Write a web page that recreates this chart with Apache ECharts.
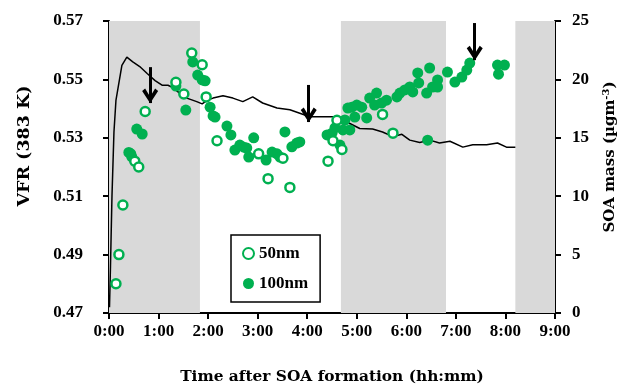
<!DOCTYPE html>
<html>
<head>
<meta charset="utf-8">
<script src="https://cdn.jsdelivr.net/npm/echarts@6/dist/echarts.min.js"></script>
<style>html,body{margin:0;padding:0;background:#fff}#c{width:619px;height:387px}</style>
</head>
<body>
<div id="c"></div>
<script>
// ---- data (time in hours after SOA formation) ----
const timeTickLabels = ['0:00','1:00','2:00','3:00','4:00','5:00','6:00','7:00','8:00','9:00'];
const vfrTickLabels = ['0.47','0.49','0.51','0.53','0.55','0.57'];
const soaTickLabels = ['0','5','10','15','20','25'];

const nm50Time = [0.14,0.20,0.28,0.52,0.60,0.73,1.35,1.51,1.67,1.88,1.96,2.18,3.02,3.21,3.51,3.65,4.42,4.52,4.60,4.70,5.52,5.73];
const nm50VFR  = [0.480,0.490,0.507,0.522,0.520,0.539,0.549,0.545,0.559,0.555,0.544,0.529,0.5245,0.516,0.523,0.513,0.522,0.529,0.536,0.526,0.538,0.5316];

const nm100Time = [0.40,0.44,0.46,0.56,0.67,1.35,1.55,1.69,1.79,1.88,1.94,2.04,2.10,2.14,2.38,2.46,2.54,2.64,2.72,2.78,2.82,2.92,3.17,3.29,3.39,3.45,3.55,3.69,3.79,3.85,4.40,4.50,4.56,4.66,4.72,4.76,4.82,4.86,4.90,4.96,5.00,5.10,5.20,5.26,5.36,5.40,5.50,5.60,5.81,5.87,5.97,6.07,6.13,6.23,6.25,6.41,6.43,6.47,6.53,6.63,6.63,6.83,6.98,7.12,7.22,7.28,7.84,7.86,7.98];
const nm100VFR  = [0.525,0.5245,0.5235,0.533,0.5313,0.5477,0.5395,0.556,0.5515,0.5498,0.5495,0.5405,0.5375,0.5371,0.534,0.531,0.5258,0.5275,0.5268,0.5265,0.5234,0.530,0.5224,0.5251,0.5245,0.5234,0.532,0.5269,0.5282,0.5286,0.531,0.5316,0.5334,0.5275,0.5327,0.5361,0.5402,0.5327,0.5405,0.5371,0.5412,0.5405,0.5368,0.5436,0.5412,0.5453,0.5419,0.5429,0.544,0.5453,0.5464,0.5474,0.5457,0.5522,0.5488,0.5453,0.5292,0.5539,0.5474,0.5498,0.5474,0.5525,0.5491,0.5508,0.5532,0.5556,0.5549,0.5518,0.5549];

const soaTime = [0.01,0.03,0.06,0.10,0.14,0.26,0.36,0.48,0.62,0.77,0.93,1.07,1.19,1.29,1.43,1.57,1.77,1.88,1.98,2.10,2.30,2.50,2.70,2.90,3.10,3.39,3.65,3.85,4.05,4.31,4.60,4.80,5.06,5.32,5.52,5.73,5.91,6.07,6.27,6.47,6.67,6.88,7.14,7.34,7.62,7.84,8.02,8.20];
const soaMass = [0.5,4,10,15.5,18.2,21.2,21.9,21.5,21.1,20.5,19.9,19.5,19.5,19.3,18.8,18.4,18.1,17.9,18.2,18.4,18.6,18.4,18.1,18.5,17.98,17.55,17.4,17.1,16.8,16.8,16.8,16.35,15.8,15.75,15.5,15.1,15.3,14.8,14.6,14.8,14.55,14.7,14.2,14.4,14.4,14.55,14.2,14.2];

const shadeStart = [0, 4.68, 8.2];
const shadeEnd   = [1.835, 6.80, 9];

const arrowTime = [0.83, 4.03, 7.38];
const arrowTop  = [0.5542, 0.5481, 0.5693];
const arrowTip  = [0.5419, 0.5354, 0.5566];

// ---- chart ----
const VMIN = 0.47;
const toY = v => (v - VMIN) * 100;
const green = '#00b050';
const font = 'Liberation Serif';
const titleFont = 'DejaVu Serif';
const chevron = 'path://M8,-14 L8.01,-14 L8,-13.99 Z M8,0 L16,12 L13,14.5 L8,6.5 L3,14.5 L0,12 Z';

const chart = echarts.init(document.getElementById('c'), null, {renderer: 'canvas'});
const axisLine = {show: true, onZero: false, lineStyle: {color: '#000', width: 2}};
const axisTick = {show: true, inside: false, length: 6, lineStyle: {color: '#000', width: 2}};
const lbl = {color: '#000', fontFamily: font, fontWeight: 'bold', fontSize: 17};
const ttl = {color: '#000', fontFamily: titleFont, fontWeight: 'bold', fontSize: 15.4};

chart.setOption({
  animation: false,
  backgroundColor: '#fff',
  textStyle: {fontFamily: font, color: '#000'},
  grid: {left: 109, right: 64, top: 21, bottom: 74, containLabel: false, outerBoundsMode: 'none'},
  legend: {
    left: 231, top: 235, orient: 'vertical',
    padding: [10, 12, 10, 11], itemGap: 13, itemWidth: 11, itemHeight: 11, itemTextGap: 3,
    borderColor: '#000', borderWidth: 1.5, backgroundColor: '#fff',
    textStyle: lbl,
    data: [{name: '50nm', icon: 'circle'}, {name: '100nm', icon: 'circle'}]
  },
  xAxis: {
    type: 'value', min: 0, max: 9, interval: 1,
    name: 'Time after SOA formation (hh:mm)', nameLocation: 'middle', nameGap: 56,
    nameTextStyle: ttl,
    axisLine, axisTick, splitLine: {show: false},
    axisLabel: Object.assign({margin: 10, formatter: v => timeTickLabels[Math.round(v)]}, lbl)
  },
  yAxis: [{
    type: 'value', position: 'left', min: 0, max: 10, interval: 2,
    name: 'VFR (383 K)', nameLocation: 'middle', nameGap: 76, nameRotate: 90,
    nameTextStyle: Object.assign({}, ttl, {fontSize: 17.5, padding: [0, 0, 0, 42]}),
    axisLine, axisTick, splitLine: {show: false},
    axisLabel: Object.assign({margin: 26, formatter: v => vfrTickLabels[Math.round(v / 2)]}, lbl)
  }, {
    type: 'value', position: 'right', min: 0, max: 25, interval: 5,
    name: 'SOA mass (µgm{sup|-3})', nameLocation: 'middle', nameGap: 46, nameRotate: 90,
    nameTextStyle: Object.assign({}, ttl, {fontSize: 15, padding: [0, 0, 0, 20],
      rich: {sup: {fontFamily: titleFont, fontWeight: 'bold', fontSize: 10, verticalAlign: 'top', padding: [0, 0, 8, 0]}}}),
    axisLine, axisTick, splitLine: {show: false},
    axisLabel: Object.assign({margin: 17, formatter: v => soaTickLabels[Math.round(v / 5)]}, lbl)
  }],
  series: [
    {
      name: 'shade', type: 'line', data: [], z: 0, silent: true,
      markArea: {
        silent: true,
        itemStyle: {color: '#d9d9d9'},
        data: shadeStart.map((s, i) => [{xAxis: s}, {xAxis: shadeEnd[i]}])
      }
    },
    {
      name: 'SOA', type: 'line', yAxisIndex: 1, z: 3, showSymbol: false, silent: true,
      lineStyle: {color: '#000', width: 1.5},
      data: soaTime.map((t, i) => [t, soaMass[i]])
    },
    {
      name: '100nm', type: 'scatter', z: 4, symbol: 'circle', symbolSize: 11,
      itemStyle: {color: green, opacity: 1},
      data: nm100Time.map((t, i) => [t, toY(nm100VFR[i])])
    },
    {
      name: '50nm', type: 'scatter', z: 5, symbol: 'circle', symbolSize: 9,
      itemStyle: {color: '#fff', borderColor: green, borderWidth: 2.5, opacity: 1},
      data: nm50Time.map((t, i) => [t, toY(nm50VFR[i])]),
      markLine: {
        silent: true, animation: false,
        symbol: ['none', chevron], symbolSize: [16, 29],
        label: {show: false},
        lineStyle: {color: '#000', width: 3, type: 'solid'},
        data: arrowTime.map((t, i) => [{coord: [t, toY(arrowTop[i])]}, {coord: [t, toY(arrowTip[i])]}])
      }
    }
  ]
});
</script>
</body>
</html>
